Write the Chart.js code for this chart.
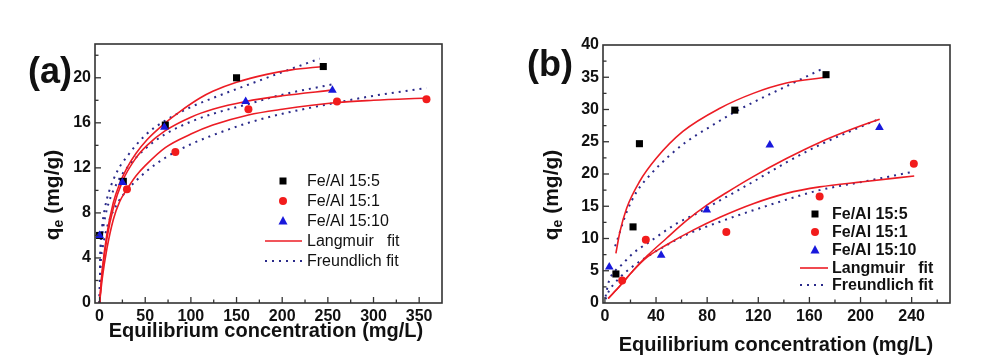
<!DOCTYPE html>
<html>
<head>
<meta charset="utf-8">
<script src="https://cdn.jsdelivr.net/npm/chart.js@4/dist/chart.umd.min.js"></script>
<style>
  body { margin: 0; background: #fff; width: 1003px; height: 358px; overflow: hidden; }
  .panel { position: absolute; top: 0; height: 358px; }
  #pa { left: 0; width: 500px; }
  #pb { left: 500px; width: 503px; }
</style>
</head>
<body>
<div class="panel" id="pa"><canvas id="chartA"></canvas></div>
<div class="panel" id="pb"><canvas id="chartB"></canvas></div>
<script>
// ---- panel (a) measured points ----
const a155X = [0, 26, 72, 150, 245];
const a155Y = [6.0, 10.8, 15.8, 20.0, 21.0];
const a151X = [30, 83, 163, 260, 358];
const a151Y = [10.1, 13.4, 17.2, 17.9, 18.1];
const a1510X = [0, 25, 71, 160, 255];
const a1510Y = [6.0, 10.7, 15.6, 17.9, 18.9];

// panel (a) Langmuir fits
const aLang155X = [0, 3, 8, 15, 22, 30, 40, 52, 72, 88, 110, 124, 150, 183, 210, 245];
const aLang155Y = [0, 3.0, 6.1, 8.9, 10.6, 12.0, 13.3, 14.5, 16.0, 17.0, 18.2, 18.8, 19.6, 20.3, 20.7, 21.0];
const aLang1510X = [0, 3, 8, 15, 25, 40, 52, 72, 100, 124, 160, 200, 255];
const aLang1510Y = [0, 2.8, 5.7, 8.4, 10.8, 12.9, 14.0, 15.3, 16.5, 17.2, 17.9, 18.4, 18.9];
const aLang151X = [0, 3, 8, 15, 22, 30, 40, 50, 72, 100, 124, 163, 200, 260, 300, 358];
const aLang151Y = [0, 2.2, 4.8, 7.4, 9.0, 10.1, 11.3, 12.2, 13.8, 15.0, 15.8, 16.7, 17.2, 17.8, 18.0, 18.2];

// panel (a) Freundlich fits
const aFreu155X = [0, 1, 3, 6, 10, 20, 30, 50, 72, 100, 124, 150, 200, 241];
const aFreu155Y = [0, 4.8, 6.9, 8.5, 9.8, 11.8, 13.0, 14.9, 16.2, 17.4, 18.2, 19.0, 20.5, 21.7];
const aFreu1510X = [0, 1, 3, 6, 10, 20, 30, 50, 72, 100, 124, 160, 200, 254];
const aFreu1510Y = [0, 4.3, 6.1, 7.6, 8.9, 10.8, 12.0, 13.7, 15.0, 16.1, 16.8, 17.6, 18.5, 19.4];
const aFreu151X = [0, 1, 3, 6, 10, 20, 30, 50, 72, 100, 124, 163, 200, 260, 300, 358];
const aFreu151Y = [0, 3.2, 4.7, 6.0, 7.2, 8.9, 10.0, 11.6, 12.9, 14.1, 14.9, 16.0, 16.8, 17.8, 18.4, 19.1];

// ---- panel (b) measured points ----
const b155X = [8.6, 22, 27, 101.6, 173];
const b155Y = [4.5, 11.8, 24.7, 29.9, 35.4];
const b151X = [13.5, 32, 95, 168, 241.7];
const b151Y = [3.5, 9.8, 11.0, 16.5, 21.6];
const b1510X = [3.4, 44, 79.7, 129, 214.8];
const b1510Y = [5.6, 7.4, 14.4, 24.5, 27.2];

// panel (b) Langmuir fits
const bLang155X = [8.6, 11.7, 17, 27, 40, 61, 90, 116, 142, 173];
const bLang155Y = [7.7, 11.0, 14.7, 18.8, 22.4, 26.6, 30.2, 32.5, 34.1, 35.0];
const bLang1510X = [2.6, 12, 22, 33, 48, 64, 80, 95, 116, 142, 168, 194, 215];
const bLang1510Y = [0.7, 2.7, 5.0, 7.3, 10.0, 12.8, 15.2, 17.1, 19.6, 22.4, 24.9, 27.0, 28.5];
const bLang151X = [2.6, 12, 22, 33, 48, 69, 90, 116, 142, 168, 202, 242];
const bLang151Y = [0.7, 2.7, 5.0, 7.1, 9.0, 11.3, 13.3, 15.4, 17.0, 18.0, 18.8, 19.7];

// panel (b) Freundlich fits
const bFreu155X = [8, 10.4, 17, 24.7, 36.5, 50.8, 63.8, 82, 101.6, 121, 142, 169];
const bFreu155Y = [8.8, 10.2, 14.1, 17.2, 20.1, 22.9, 25.0, 27.3, 29.6, 31.6, 33.6, 36.2];
const bFreu1510X = [0.5, 3, 8, 13, 22, 35, 56, 74, 90, 100, 116, 142, 168, 194, 213];
const bFreu1510Y = [1.0, 3.3, 5.0, 5.9, 7.7, 9.5, 12.3, 14.1, 15.9, 17.0, 18.8, 21.8, 24.5, 26.8, 28.4];
const bFreu151X = [0.5, 3, 10, 20, 30, 45, 64, 90, 121, 145, 168, 202, 240];
const bFreu151Y = [0.6, 1.8, 3.6, 5.4, 6.8, 8.6, 10.6, 12.6, 14.7, 16.2, 17.5, 18.8, 20.3];

// tick labels
const xTicksA = [0, 50, 100, 150, 200, 250, 300, 350];
const yTicksA = [0, 4, 8, 12, 16, 20];
const xTicksB = [0, 40, 80, 120, 160, 200, 240];
const yTicksB = [0, 5, 10, 15, 20, 25, 30, 35, 40];

const seriesNames = ['Fe/Al 15:5', 'Fe/Al 15:1', 'Fe/Al 15:10'];
const fitNames = ['Langmuir   fit', 'Freundlich fit'];

const BLACK = '#000000', RED = '#f21c1c', BLUE = '#1818dc';
const LINE_RED = '#ec1c24', DOT_BLUE = '#2a2a8a';

function pts(xs, ys) { return xs.map((x, i) => ({ x: x, y: ys[i] })); }

function markers(label, xs, ys, style, color, r) {
  return {
    label: label, data: pts(xs, ys), showLine: false,
    pointStyle: style, pointRadius: r, pointBackgroundColor: color,
    pointBorderColor: color, pointBorderWidth: 0
  };
}

function fit(xs, ys, color, dashed) {
  return {
    data: pts(xs, ys), showLine: true, pointRadius: 0,
    borderColor: color, borderWidth: dashed ? 2 : 1.6,
    borderDash: dashed ? [2, 5] : [],
    cubicInterpolationMode: 'monotone', fill: false
  };
}

function line(ctx, x1, y1, x2, y2) {
  ctx.beginPath(); ctx.moveTo(x1, y1); ctx.lineTo(x2, y2); ctx.stroke();
}

function drawMarker(ctx, style, color, x, y) {
  ctx.fillStyle = color;
  ctx.beginPath();
  if (style === 'rect') ctx.rect(x - 3.5, y - 3.5, 7, 7);
  else if (style === 'circle') ctx.arc(x, y, 4, 0, Math.PI * 2);
  else { ctx.moveTo(x, y - 5); ctx.lineTo(x + 4.5, y + 3.5); ctx.lineTo(x - 4.5, y + 3.5); ctx.closePath(); }
  ctx.fill();
}

// frame, inward ticks, axis titles, panel letter and in-plot legend
const isoFrame = {
  id: 'isoFrame',
  afterDraw(chart, args, o) {
    const { ctx, chartArea: a, scales } = chart;
    const xs = scales.x, ys = scales.y;
    ctx.save();
    ctx.strokeStyle = '#333'; ctx.lineWidth = 1.3;

    const minorX = [], minorY = [];
    for (let v = Math.ceil(xs.min / o.xMinor) * o.xMinor; v <= xs.max; v += o.xMinor) minorX.push(v);
    for (let v = Math.ceil(ys.min / o.yMinor) * o.yMinor; v <= ys.max; v += o.yMinor) minorY.push(v);
    minorX.forEach(v => {
      const px = xs.getPixelForValue(v);
      if (px <= a.left + 1 || px >= a.right - 1) return;
      const len = o.xMajor.includes(v) ? 6 : 3.5;
      line(ctx, px, a.bottom, px, a.bottom - len);
    });
    minorY.forEach(v => {
      const py = ys.getPixelForValue(v);
      if (py <= a.top + 1 || py >= a.bottom - 1) return;
      const len = o.yMajor.includes(v) ? 6 : 3.5;
      line(ctx, a.left, py, a.left + len, py);
    });
    ctx.lineWidth = 1.6;
    ctx.strokeRect(a.left, a.top, a.right - a.left, a.bottom - a.top);

    // x title
    ctx.fillStyle = '#111';
    ctx.textAlign = 'center'; ctx.textBaseline = 'middle';
    ctx.font = 'bold 20px "Liberation Sans", Arial, sans-serif';
    ctx.fillText('Equilibrium concentration (mg/L)', o.xTitle[0], o.xTitle[1]);

    // y title with subscript
    ctx.save();
    ctx.translate(o.yTitle[0], o.yTitle[1]);
    ctx.rotate(-Math.PI / 2);
    ctx.textAlign = 'left'; ctx.textBaseline = 'middle';
    const big = 'bold 21px "Liberation Sans", Arial, sans-serif';
    const small = 'bold 14px "Liberation Sans", Arial, sans-serif';
    ctx.font = big; const wq = ctx.measureText('q').width; const wr = ctx.measureText(' (mg/g)').width;
    ctx.font = small; const we = ctx.measureText('e').width;
    let sx = -(wq + we + wr) / 2;
    ctx.font = big; ctx.fillText('q', sx, 0); sx += wq;
    ctx.font = small; ctx.fillText('e', sx, 6); sx += we;
    ctx.font = big; ctx.fillText(' (mg/g)', sx, 0);
    ctx.restore();

    // panel letter
    ctx.textAlign = 'center';
    ctx.font = 'bold 36px "Liberation Sans", Arial, sans-serif';
    ctx.fillText(o.letter, o.letterPos[0], o.letterPos[1]);

    // legend
    const L = o.legend;
    ctx.textAlign = 'left';
    ctx.font = (L.bold ? 'bold ' : '') + '16px "Liberation Sans", Arial, sans-serif';
    const marks = [['rect', BLACK], ['circle', RED], ['triangle', BLUE]];
    marks.forEach((m, i) => {
      drawMarker(ctx, m[0], m[1], L.mx, L.rows[i]);
      ctx.fillStyle = '#111';
      ctx.fillText(seriesNames[i], L.tx, L.rows[i] + 1);
    });
    ctx.lineWidth = 1.6; ctx.strokeStyle = LINE_RED;
    line(ctx, L.l1, L.rows[3], L.l2, L.rows[3]);
    ctx.lineWidth = 2; ctx.strokeStyle = DOT_BLUE; ctx.setLineDash([2, 5]);
    line(ctx, L.l1, L.rows[4], L.l2, L.rows[4]);
    ctx.setLineDash([]);
    ctx.fillStyle = '#111';
    ctx.fillText(fitNames[0], L.tx, L.rows[3] + 1);
    ctx.fillText(fitNames[1], L.tx, L.rows[4] + 1);
    ctx.restore();
  }
};

const tickFont = { family: '"Liberation Sans", Arial, sans-serif', size: 16, weight: 'bold' };

function makeChart(id, p) {
  return new Chart(document.getElementById(id), {
    type: 'scatter',
    data: { datasets: p.datasets },
    options: {
      responsive: true,
      maintainAspectRatio: false,
      animation: false,
      layout: { padding: p.padding },
      plugins: { legend: { display: false }, tooltip: { enabled: false }, isoFrame: p.frame },
      scales: {
        x: {
          type: 'linear', min: p.xMin, max: p.xMax,
          afterBuildTicks: s => { s.ticks = p.xTicks.map(v => ({ value: v })); },
          afterFit: s => { s.height = 55; },
          grid: { display: false, drawTicks: false },
          border: { display: false },
          ticks: { font: tickFont, color: '#111', padding: 4, maxRotation: 0, autoSkip: false }
        },
        y: {
          type: 'linear', min: p.yMin, max: p.yMax,
          afterBuildTicks: s => { s.ticks = p.yTicks.map(v => ({ value: v })); },
          afterFit: s => { s.width = p.yWidth; },
          grid: { display: false, drawTicks: false },
          border: { display: false },
          ticks: { font: tickFont, color: '#111', padding: 4, autoSkip: false }
        }
      }
    },
    plugins: [isoFrame]
  });
}

makeChart('chartA', {
  xMin: -5, xMax: 375, yMin: 0, yMax: 23,
  xTicks: xTicksA, yTicks: yTicksA, yWidth: 95,
  padding: { left: 0, top: 44, right: 58, bottom: 0 },
  datasets: [
    markers(seriesNames[2], a1510X, a1510Y, 'triangle', BLUE, 5),
    markers(seriesNames[1], a151X, a151Y, 'circle', RED, 4),
    markers(seriesNames[0], a155X, a155Y, 'rect', BLACK, 5),
    fit(aLang155X, aLang155Y, LINE_RED, false),
    fit(aLang1510X, aLang1510Y, LINE_RED, false),
    fit(aLang151X, aLang151Y, LINE_RED, false),
    fit(aFreu155X, aFreu155Y, DOT_BLUE, true),
    fit(aFreu1510X, aFreu1510Y, DOT_BLUE, true),
    fit(aFreu151X, aFreu151Y, DOT_BLUE, true)
  ],
  frame: {
    xMajor: xTicksA, yMajor: yTicksA, xMinor: 25, yMinor: 2,
    xTitle: [266, 331], yTitle: [53, 195], letter: '(a)', letterPos: [50, 73],
    legend: { bold: false, mx: 283, tx: 307, l1: 265, l2: 302, rows: [181, 201, 221, 241, 261] }
  }
});

makeChart('chartB', {
  xMin: -1.5, xMax: 270, yMin: 0, yMax: 40,
  xTicks: xTicksB, yTicks: yTicksB, yWidth: 103,
  padding: { left: 0, top: 45, right: 53, bottom: 0 },
  datasets: [
    markers(seriesNames[2], b1510X, b1510Y, 'triangle', BLUE, 5),
    markers(seriesNames[1], b151X, b151Y, 'circle', RED, 4),
    markers(seriesNames[0], b155X, b155Y, 'rect', BLACK, 5),
    fit(bLang155X, bLang155Y, LINE_RED, false),
    fit(bLang1510X, bLang1510Y, LINE_RED, false),
    fit(bLang151X, bLang151Y, LINE_RED, false),
    fit(bFreu155X, bFreu155Y, DOT_BLUE, true),
    fit(bFreu1510X, bFreu1510Y, DOT_BLUE, true),
    fit(bFreu151X, bFreu151Y, DOT_BLUE, true)
  ],
  frame: {
    xMajor: xTicksB, yMajor: yTicksB, xMinor: 20, yMinor: 2.5,
    xTitle: [276, 345], yTitle: [52, 195], letter: '(b)', letterPos: [50, 66],
    legend: { bold: true, mx: 315, tx: 332, l1: 300, l2: 328, rows: [214, 232, 250, 268, 285] }
  }
});
</script>
</body>
</html>
